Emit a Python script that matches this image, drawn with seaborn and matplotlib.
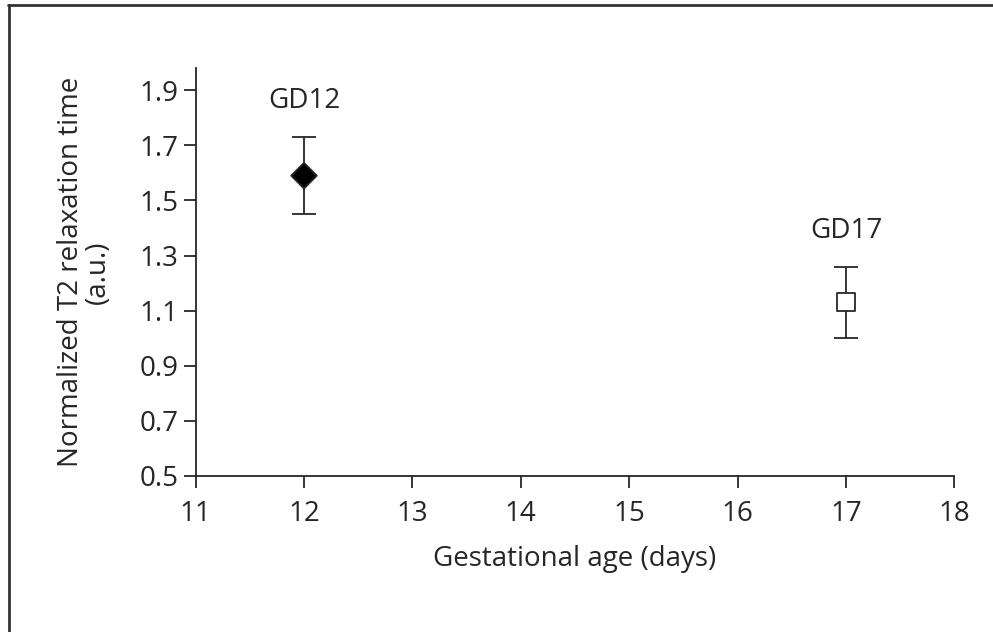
import pandas as pd
import matplotlib.pyplot as plt
import seaborn as sns
from matplotlib.lines import Line2D

# Data
groups = ["GD12", "GD17"]
ages = [12, 17]
t2_mean = [1.59, 1.13]
t2_err = [0.14, 0.13]
label_y = [1.86, 1.39]
x_ticks = [11, 12, 13, 14, 15, 16, 17, 18]
y_ticks = [0.5, 0.7, 0.9, 1.1, 1.3, 1.5, 1.7, 1.9]

df = pd.DataFrame({"group": groups, "age": ages, "t2": t2_mean, "err": t2_err})

sns.set_style("ticks")
plt.rcParams["font.family"] = ["Open Sans", "DejaVu Sans"]
ink = "#262626"
fs = 20

fig = plt.figure(figsize=(9.93, 6.32), dpi=100)
ax = fig.add_axes([0.197, 0.247, 0.764, 0.645])

# error bars first, markers on top
ax.errorbar(df["age"], df["t2"], yerr=df["err"], fmt="none",
            ecolor=ink, elinewidth=1.3, capsize=8.5, capthick=1.3, zorder=2)

sns.scatterplot(data=df, x="age", y="t2", hue="group", style="group",
                markers={"GD12": "D", "GD17": "s"},
                palette={"GD12": "black", "GD17": "white"},
                s=170, edgecolor=ink, linewidth=1.3, legend=False,
                zorder=3, ax=ax)

for g, a, ly in zip(groups, ages, label_y):
    ax.text(a, ly, g, ha="center", va="center", fontsize=fs, color=ink)

ax.set_xlim(11, 18)
ax.set_ylim(0.5, 1.98)
ax.set_xticks(x_ticks)
ax.set_yticks(y_ticks)
ax.set_yticklabels([f"{v:.1f}" for v in y_ticks])
ax.tick_params(labelsize=fs, length=8.5, width=1.3, color=ink,
               labelcolor=ink, pad=4)
ax.tick_params(axis="x", pad=9)
sns.despine(ax=ax)
for side in ["left", "bottom"]:
    ax.spines[side].set_linewidth(1.3)
    ax.spines[side].set_color(ink)

ax.set_xlabel("Gestational age (days)", fontsize=fs, color=ink, labelpad=12)
ax.set_ylabel("Normalized T2 relaxation time\n(a.u.)", fontsize=fs,
              color=ink, labelpad=20, linespacing=0.95)

# frame around the figure: only left and top edges visible
fig.add_artist(Line2D([0.009, 0.009], [0, 0.992], transform=fig.transFigure,
                      color="#333333", linewidth=2))
fig.add_artist(Line2D([0.008, 1.0], [0.992, 0.992], transform=fig.transFigure,
                      color="#333333", linewidth=2))

fig.savefig("out.png", dpi=100, facecolor="white")
